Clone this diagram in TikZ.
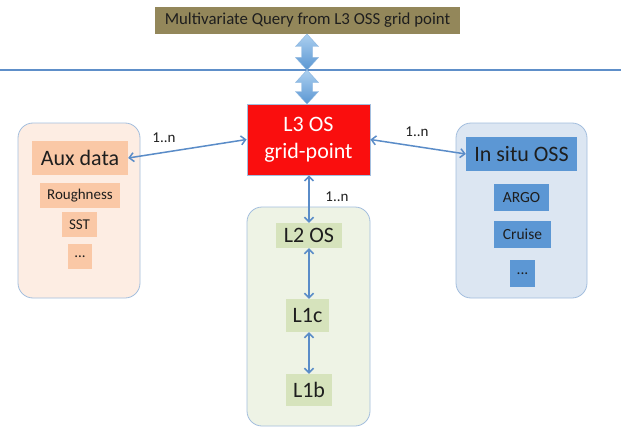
\documentclass[tikz,border=0pt]{standalone}
\usepackage{fontspec}
\setmainfont{Carlito}
\usetikzlibrary{arrows.meta}

\definecolor{queryfill}{HTML}{93875A}
\definecolor{hlinecol}{HTML}{5E8FC9}
\definecolor{linkcol}{HTML}{5A8CC8}
\definecolor{edgecol}{HTML}{A3BEDE}
\definecolor{auxbg}{HTML}{FDEDE3}
\definecolor{auxitem}{HTML}{FAC8A6}
\definecolor{lvlbg}{HTML}{EEF3E5}
\definecolor{lvlitem}{HTML}{D6E3BC}
\definecolor{ossbg}{HTML}{DCE6F2}
\definecolor{ossitem}{HTML}{5C97D4}
\definecolor{gridred}{HTML}{FA0E0E}
\definecolor{arrowlight}{HTML}{ACD0F0}
\definecolor{arrowdark}{HTML}{5A96D2}
\definecolor{txt}{HTML}{1E1E1E}

% vertical double-headed block arrow: #1 = centre x, #2 = top y, #3 = bottom y
\newcommand\bigdarrow[3]{%
  \shade[top color=arrowlight, bottom color=arrowdark, draw=arrowdark!70, line width=0.4pt]
    (#1,#2) -- ({#1+11.5},{#2+12.5}) -- ({#1+5.5},{#2+12.5}) --
    ({#1+5.5},{#3-12.5}) -- ({#1+11.5},{#3-12.5}) -- (#1,#3) --
    ({#1-11.5},{#3-12.5}) -- ({#1-5.5},{#3-12.5}) --
    ({#1-5.5},{#2+12.5}) -- ({#1-11.5},{#2+12.5}) -- cycle;}

\tikzset{
  box/.style={inner sep=0pt, text=txt, align=center},
  container/.style={draw=edgecol, line width=0.8pt, rounded corners=15pt, inner sep=0pt},
  link/.style={draw=linkcol, line width=1.5pt,
    {Straight Barb[length=4.5pt,width=9pt,line width=1.5pt]}-{Straight Barb[length=4.5pt,width=9pt,line width=1.5pt]}},
  card/.style={font=\fontsize{15}{18}\selectfont, text=txt},
  big/.style={font=\fontsize{22}{26}\selectfont},
  small/.style={font=\fontsize{15.5}{18}\selectfont},
}

\begin{document}
\begin{tikzpicture}[x=1pt, y=-1pt]
  \useasboundingbox (0,0) rectangle (621,436);
  \fill[white] (0,0) rectangle (621,436);

  % query banner and separator line
  \node[box, fill=queryfill, minimum width=305pt, minimum height=27pt,
        font=\fontsize{16.8}{20}\selectfont] (query) at (307.5,20.5)
        {Multivariate Query from L3 OSS grid point};
  \draw[hlinecol, line width=1.4pt] (0,70) -- (621,70);
  \coordinate (sep) at (307,70);

  % containers
  \node[container, fill=auxbg, minimum width=122pt, minimum height=175pt] (auxc) at (79,210.5) {};
  \node[container, fill=lvlbg, minimum width=123pt, minimum height=219pt] (lvlc) at (308.5,316.5) {};
  \node[container, fill=ossbg, minimum width=131pt, minimum height=175pt] (ossc) at (521.5,210.5) {};

  % central grid point
  \node[box, fill=gridred, draw=edgecol, line width=0.8pt, text=white,
        minimum width=123pt, minimum height=71pt,
        font=\fontsize{22}{27}\selectfont] (l3) at (308.5,139.5) {L3 OS\\grid-point};

  % auxiliary data
  \node[box, big, fill=auxitem, minimum width=96pt, minimum height=34pt] (aux) at (80,158) {Aux data};
  \node[box, card, fill=auxitem, minimum width=80pt, minimum height=25pt] (rough) at (80,195.5) {Roughness};
  \node[box, card, fill=auxitem, minimum width=35pt, minimum height=25pt] (sst) at (79.5,224.5) {SST};
  \node[box, card, fill=auxitem, minimum width=24pt, minimum height=25pt] (auxdots) at (80,256.5) {...};

  % processing levels
  \node[box, big, fill=lvlitem, minimum width=66pt, minimum height=25pt] (l2) at (309,235.5) {L2 OS};
  \node[box, big, fill=lvlitem, minimum width=43pt, minimum height=33pt] (l1c) at (307.5,315.5) {L1c};
  \node[box, big, fill=lvlitem, minimum width=46pt, minimum height=32pt] (l1b) at (309,390) {L1b};

  % in situ data
  \node[box, big, fill=ossitem, minimum width=111pt, minimum height=34pt] (insitu) at (521.5,154) {In situ OSS};
  \node[box, small, fill=ossitem, minimum width=55pt, minimum height=27pt] (argo) at (521.5,197.5) {ARGO};
  \node[box, small, fill=ossitem, minimum width=57pt, minimum height=27pt] (cruise) at (522.5,234.5) {Cruise};
  \node[box, small, fill=ossitem, minimum width=25pt, minimum height=27pt] (ossdots) at (522.5,273.5) {...};

  % block arrows between banner, separator and grid point
  \bigdarrow{307}{34}{70}
  \bigdarrow{307}{70}{104}

  % links
  \draw[link] (aux.east) -- (l3.west);
  \draw[link] (l3.east) -- (insitu.west);
  \draw[link] (l3.south -| l2.north) -- (l2.north);
  \draw[link] (l2.south) -- (l2.south |- l1c.north);
  \draw[link] (l2.south |- l1c.south) -- (l2.south |- l1b.north);

  % multiplicity labels
  \node[card] (m1) at (164,138) {1..n};
  \node[card] (m2) at (337,197) {1..n};
  \node[card] (m3) at (417,131.5) {1..n};
\end{tikzpicture}
\end{document}
